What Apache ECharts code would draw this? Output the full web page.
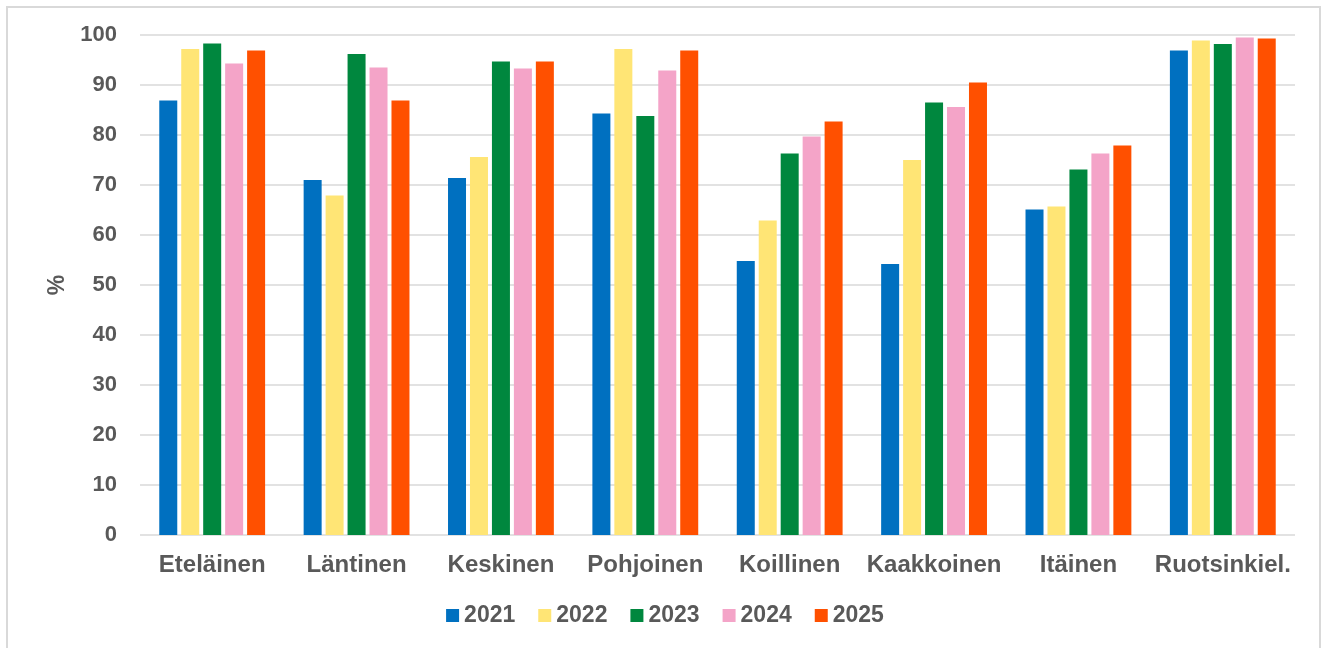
<!DOCTYPE html>
<html>
<head>
<meta charset="utf-8">
<script src="https://cdn.jsdelivr.net/npm/echarts@6/dist/echarts.min.js"></script>
<style>
  html, body { margin: 0; padding: 0; background: #fff; }
  .chart-container {
    position: absolute;
    left: 6px;
    top: 6px;
    width: 1315px;
    height: 660px;
    border: 2px solid #d9d9d9;
    box-sizing: border-box;
  }
  #main {
    position: absolute;
    left: 0;
    top: 0;
    width: 1330px;
    height: 648px;
  }
</style>
</head>
<body>
<div class="chart-container"></div>
<div id="main"></div>
<script>
const categories = ["Eteläinen", "Läntinen", "Keskinen", "Pohjoinen", "Koillinen", "Kaakkoinen", "Itäinen", "Ruotsinkiel."];
const years = ["2021", "2022", "2023", "2024", "2025"];

const values2021 = [86.9, 71.0, 71.4, 84.3, 54.8, 54.2, 65.1, 96.9];
const values2022 = [97.2, 67.9, 75.6, 97.2, 62.9, 75.0, 65.7, 98.9];
const values2023 = [98.3, 96.2, 94.7, 83.8, 76.3, 86.5, 73.1, 98.2];
const values2024 = [94.3, 93.5, 93.3, 92.9, 79.7, 85.6, 76.3, 99.5];
const values2025 = [96.9, 86.9, 94.7, 96.9, 82.7, 90.5, 77.9, 99.3];

const yTicks = [0, 10, 20, 30, 40, 50, 60, 70, 80, 90, 100];

const seriesValues = [values2021, values2022, values2023, values2024, values2025];
const colors = ["#0070C0", "#FFE575", "#00873E", "#F4A4C8", "#FF5000"];

const myChart = echarts.init(document.getElementById('main'));

const textColor = "#595959";
const fontFamily = "'Liberation Sans', Arial, sans-serif";

const option = {
  animation: false,
  textStyle: { fontFamily: fontFamily },
  grid: {
    left: 140,
    right: 35,
    top: 35,
    bottom: 113
  },
  legend: {
    data: years,
    bottom: 16,
    left: 'center',
    itemWidth: 13,
    itemHeight: 13,
    itemGap: 23,
    icon: 'rect',
    textStyle: {
      color: textColor,
      fontSize: 23,
      fontWeight: 'bold',
      fontFamily: fontFamily
    }
  },
  xAxis: {
    type: 'category',
    data: categories,
    axisLine: { show: false },
    axisTick: { show: false },
    axisLabel: {
      interval: 0,
      color: textColor,
      fontSize: 24,
      fontWeight: 'bold',
      fontFamily: fontFamily,
      margin: 18
    }
  },
  yAxis: {
    type: 'value',
    min: yTicks[0],
    max: yTicks[yTicks.length - 1],
    interval: 10,
    name: '%',
    nameLocation: 'middle',
    nameGap: 70,
    nameRotate: 90,
    nameTextStyle: {
      color: textColor,
      fontSize: 23,
      fontWeight: 'bold',
      fontFamily: fontFamily
    },
    axisLine: { show: false },
    axisTick: { show: false },
    axisLabel: {
      color: textColor,
      fontSize: 22,
      fontWeight: 'bold',
      fontFamily: fontFamily,
      margin: 23
    },
    splitLine: {
      lineStyle: { color: '#d9d9d9', width: 1.5 }
    }
  },
  series: years.map((y, i) => ({
    name: y,
    type: 'bar',
    data: seriesValues[i],
    barWidth: 18,
    barGap: '22%',
    itemStyle: { color: colors[i] }
  }))
};

myChart.setOption(option);
</script>
</body>
</html>
